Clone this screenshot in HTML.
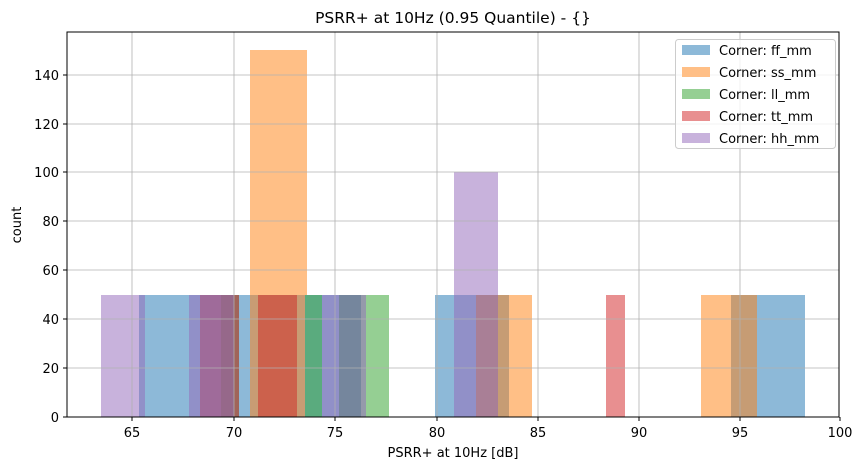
<!DOCTYPE html><html><head><meta charset="utf-8"><style>body{margin:0;background:#fff}svg{display:block;font-family:"DejaVu Sans","Liberation Sans",sans-serif}</style></head><body>
<svg width="862" height="470" viewBox="0 0 862 470">
<g>
<rect x="250" y="50" width="57" height="245" fill="#ffbf86"/>
<rect x="454" y="172" width="44" height="123" fill="#c8b2dc"/>
<rect x="101" y="295" width="38" height="122" fill="#c8b2dc"/>
<rect x="139" y="295" width="6" height="122" fill="#9190c8"/>
<rect x="145" y="295" width="44" height="122" fill="#8db9d8"/>
<rect x="189" y="295" width="11" height="122" fill="#9190c8"/>
<rect x="200" y="295" width="21" height="122" fill="#9f6b9a"/>
<rect x="221" y="295" width="13" height="122" fill="#96688a"/>
<rect x="234" y="295" width="5" height="122" fill="#a0645a"/>
<rect x="239" y="295" width="11" height="122" fill="#8db9d8"/>
<rect x="250" y="295" width="8" height="122" fill="#c89c74"/>
<rect x="258" y="295" width="39" height="122" fill="#cc614c"/>
<rect x="297" y="295" width="8" height="122" fill="#c89c74"/>
<rect x="305" y="295" width="17" height="122" fill="#5aab7e"/>
<rect x="322" y="295" width="17" height="122" fill="#9190c8"/>
<rect x="339" y="295" width="22" height="122" fill="#75869d"/>
<rect x="361" y="295" width="5" height="122" fill="#9599ab"/>
<rect x="366" y="295" width="23" height="122" fill="#95cf93"/>
<rect x="435" y="295" width="19" height="122" fill="#8db9d8"/>
<rect x="454" y="295" width="22" height="122" fill="#9190c8"/>
<rect x="476" y="295" width="22" height="122" fill="#a97f96"/>
<rect x="498" y="295" width="11" height="122" fill="#c69c74"/>
<rect x="509" y="295" width="23" height="122" fill="#ffbf86"/>
<rect x="606" y="295" width="19" height="122" fill="#e88f90"/>
<rect x="701" y="295" width="30" height="122" fill="#ffbf86"/>
<rect x="731" y="295" width="26" height="122" fill="#c69c74"/>
<rect x="757" y="295" width="48" height="122" fill="#8db9d8"/>
</g>
<g stroke="#b0b0b0" stroke-width="0.8">
<line x1="132" y1="32" x2="132" y2="417"/><line x1="234" y1="32" x2="234" y2="417"/><line x1="335" y1="32" x2="335" y2="417"/><line x1="437" y1="32" x2="437" y2="417"/><line x1="538" y1="32" x2="538" y2="417"/><line x1="639" y1="32" x2="639" y2="417"/><line x1="740" y1="32" x2="740" y2="417"/>
<line x1="67" y1="368" x2="839" y2="368"/><line x1="67" y1="319" x2="839" y2="319"/><line x1="67" y1="270" x2="839" y2="270"/><line x1="67" y1="221" x2="839" y2="221"/><line x1="67" y1="172" x2="839" y2="172"/><line x1="67" y1="124" x2="839" y2="124"/><line x1="67" y1="75" x2="839" y2="75"/>
</g>
<rect x="67" y="32" width="772" height="385" fill="none" stroke="#000" stroke-width="1"/>
<g stroke="#000"><line x1="132" y1="417" x2="132" y2="421"/><line x1="234" y1="417" x2="234" y2="421"/><line x1="335" y1="417" x2="335" y2="421"/><line x1="437" y1="417" x2="437" y2="421"/><line x1="538" y1="417" x2="538" y2="421"/><line x1="639" y1="417" x2="639" y2="421"/><line x1="740" y1="417" x2="740" y2="421"/><line x1="840" y1="417" x2="840" y2="421"/>
<line x1="63" y1="417" x2="67" y2="417"/><line x1="63" y1="368" x2="67" y2="368"/><line x1="63" y1="319" x2="67" y2="319"/><line x1="63" y1="270" x2="67" y2="270"/><line x1="63" y1="221" x2="67" y2="221"/><line x1="63" y1="172" x2="67" y2="172"/><line x1="63" y1="124" x2="67" y2="124"/><line x1="63" y1="75" x2="67" y2="75"/></g>
<g font-size="13" fill="#000" text-anchor="middle"><text x="132" y="437">65</text><text x="234" y="437">70</text><text x="335" y="437">75</text><text x="437" y="437">80</text><text x="538" y="437">85</text><text x="639" y="437">90</text><text x="740" y="437">95</text><text x="840" y="437">100</text></g>
<g font-size="13" fill="#000" text-anchor="end"><text x="59" y="422">0</text><text x="59" y="373">20</text><text x="59" y="324">40</text><text x="59" y="275">60</text><text x="59" y="226">80</text><text x="59" y="177">100</text><text x="59" y="129">120</text><text x="59" y="80">140</text></g>
<text x="453" y="23" font-size="15.5" text-anchor="middle">PSRR+ at 10Hz (0.95 Quantile) - {}</text>
<text x="453" y="457" font-size="13" text-anchor="middle">PSRR+ at 10Hz [dB]</text>
<text transform="translate(21,225) rotate(-90)" font-size="13" text-anchor="middle">count</text>
<rect x="675.5" y="39.5" width="160" height="109" rx="3" fill="#fff" fill-opacity="0.8" stroke="#ccc"/>
<g font-size="13">
<rect x="682" y="45" width="28" height="10" fill="#8db9d8"/><text x="719" y="55">Corner: ff_mm</text>
<rect x="682" y="67" width="28" height="10" fill="#ffbf86"/><text x="719" y="77">Corner: ss_mm</text>
<rect x="682" y="89" width="28" height="10" fill="#95cf93"/><text x="719" y="99">Corner: ll_mm</text>
<rect x="682" y="111" width="28" height="10" fill="#e88f90"/><text x="719" y="121">Corner: tt_mm</text>
<rect x="682" y="133" width="28" height="10" fill="#c8b2dc"/><text x="719" y="143">Corner: hh_mm</text>
</g>
</svg></body></html>
